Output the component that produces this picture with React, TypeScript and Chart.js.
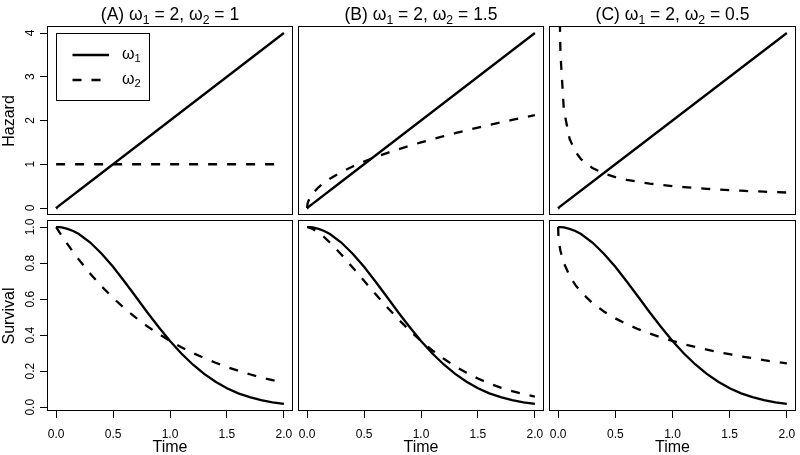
import React, { useEffect, useRef } from "react";
import { Chart, registerables } from "chart.js";

Chart.register(...registerables);

// ---- data ----
const timePoints = [0, 0.002, 0.005, 0.01, 0.02, 0.05, 0.1, 0.15, 0.2, 0.3, 0.4, 0.5, 0.6, 0.7, 0.8, 0.9, 1.0, 1.1, 1.2, 1.3, 1.4, 1.5, 1.6, 1.7, 1.8, 1.9, 2.0];

// omega1 = 2 (solid line, same in all panels)
const hazardOmega1 = [0, 0.004, 0.01, 0.02, 0.04, 0.1, 0.2, 0.3, 0.4, 0.6, 0.8, 1.0, 1.2, 1.4, 1.6, 1.8, 2.0, 2.2, 2.4, 2.6, 2.8, 3.0, 3.2, 3.4, 3.6, 3.8, 4.0];
const survivalOmega1 = [1, 1, 1, 1, 1, 0.998, 0.99, 0.978, 0.961, 0.914, 0.852, 0.779, 0.698, 0.613, 0.527, 0.445, 0.368, 0.298, 0.237, 0.185, 0.141, 0.105, 0.077, 0.056, 0.039, 0.027, 0.018];

// (A) omega2 = 1 (dashed)
const hazardA = [1, 1, 1, 1, 1, 1, 1, 1, 1, 1, 1, 1, 1, 1, 1, 1, 1, 1, 1, 1, 1, 1, 1, 1, 1, 1, 1];
const survivalA = [1, 0.998, 0.995, 0.99, 0.98, 0.951, 0.905, 0.861, 0.819, 0.741, 0.67, 0.607, 0.549, 0.497, 0.449, 0.407, 0.368, 0.333, 0.301, 0.273, 0.247, 0.223, 0.202, 0.183, 0.165, 0.15, 0.135];

// (B) omega2 = 1.5 (dashed)
const hazardB = [0, 0.067, 0.106, 0.15, 0.212, 0.335, 0.474, 0.581, 0.671, 0.822, 0.949, 1.061, 1.162, 1.255, 1.342, 1.423, 1.5, 1.573, 1.643, 1.71, 1.775, 1.837, 1.897, 1.956, 2.012, 2.068, 2.121];
const survivalB = [1, 1, 1, 0.999, 0.997, 0.989, 0.969, 0.944, 0.914, 0.848, 0.776, 0.702, 0.628, 0.557, 0.489, 0.426, 0.368, 0.315, 0.269, 0.227, 0.191, 0.159, 0.132, 0.109, 0.089, 0.073, 0.059];

// (C) omega2 = 0.5 (dashed)
const hazardC = [null, 11.18, 7.07, 5.0, 3.536, 2.236, 1.581, 1.291, 1.118, 0.913, 0.791, 0.707, 0.645, 0.598, 0.559, 0.527, 0.5, 0.477, 0.456, 0.439, 0.423, 0.408, 0.395, 0.383, 0.373, 0.363, 0.354];
const survivalC = [1, 0.956, 0.932, 0.905, 0.868, 0.8, 0.729, 0.679, 0.639, 0.578, 0.531, 0.493, 0.461, 0.433, 0.409, 0.387, 0.368, 0.35, 0.334, 0.32, 0.306, 0.294, 0.282, 0.272, 0.261, 0.252, 0.243];

// ticks
const timeTicks = [0, 0.5, 1, 1.5, 2];
const timeTickLabels = ["0.0", "0.5", "1.0", "1.5", "2.0"];
const hazardTicks = [0, 1, 2, 3, 4];
const hazardTickLabels = ["0", "1", "2", "3", "4"];
const survivalTicks = [0, 0.2, 0.4, 0.6, 0.8, 1.0];
const survivalTickLabels = ["0.0", "0.2", "0.4", "0.6", "0.8", "1.0"];

const panelTitles = [
  { tag: "(A)", w1: "2", w2: "1" },
  { tag: "(B)", w1: "2", w2: "1.5" },
  { tag: "(C)", w1: "2", w2: "0.5" },
];
const yTitles = ["Hazard", "Survival"];
const xTitle = "Time";
const legendLabels = ["1", "2"];

// ---- layout ----
const W = 800;
const H = 455;
const FONT = "'Liberation Sans', Arial, Helvetica, sans-serif";
const cols = [
  { l: 47, r: 293 },
  { l: 298, r: 544 },
  { l: 549, r: 796 },
];
const rows = [
  { t: 26, b: 215 },
  { t: 220, b: 411 },
];

const framePlugin = {
  id: "frame",
  afterDraw(chart: any) {
    const { ctx, chartArea } = chart;
    const { left, top, right, bottom } = chartArea;
    ctx.save();
    ctx.strokeStyle = "#000";
    ctx.lineWidth = 1;
    ctx.strokeRect(left + 0.5, top + 0.5, right - left - 1, bottom - top - 1);
    ctx.restore();
  },
};

function makeFit(size: number) {
  return (scale: any) => {
    if (scale.isHorizontal()) scale.height = size;
    else scale.width = size;
    scale.paddingLeft = 0;
    scale.paddingRight = 0;
    scale.paddingTop = 0;
    scale.paddingBottom = 0;
  };
}

type PanelProps = {
  col: number;
  row: number;
  solid: (number | null)[];
  dashed: (number | null)[];
  showY: boolean;
  showX: boolean;
};

function toPoints(vals: (number | null)[]) {
  const pts: { x: number; y: number }[] = [];
  vals.forEach((v, i) => {
    if (v !== null) pts.push({ x: timePoints[i], y: v });
  });
  return pts;
}

function Panel({ col, row, solid, dashed, showY, showX }: PanelProps) {
  const ref = useRef<HTMLCanvasElement>(null);
  useEffect(() => {
    const c = cols[col];
    const r = rows[row];
    const isHaz = row === 0;
    const yTicks = isHaz ? hazardTicks : survivalTicks;
    const yLabels = isHaz ? hazardTickLabels : survivalTickLabels;
    const yAxisW = showY ? c.l : 0;
    const xAxisH = showX ? H - r.b : 0;
    const chart = new Chart(ref.current as HTMLCanvasElement, {
      type: "line",
      data: {
        datasets: [
          {
            data: toPoints(solid),
            borderColor: "#000",
            borderWidth: 2.3,
            pointRadius: 0,
            fill: false,
            tension: 0,
            clip: 0,
          },
          {
            data: toPoints(dashed),
            borderColor: "#000",
            borderWidth: 2.3,
            borderDash: [9, 10],
            pointRadius: 0,
            fill: false,
            tension: 0,
            clip: 0,
          },
        ],
      } as any,
      options: {
        animation: false,
        responsive: false,
        devicePixelRatio: 1,
        events: [],
        layout: {
          autoPadding: false,
          padding: { left: c.l - yAxisW, right: W - c.r, top: r.t, bottom: H - r.b - xAxisH },
        },
        plugins: {
          legend: { display: false },
          tooltip: { enabled: false },
          title: { display: false },
        },
        scales: {
          x: {
            type: "linear",
            min: -0.08,
            max: 2.08,
            display: showX,
            afterBuildTicks: (s: any) => {
              s.ticks = timeTicks.map((v) => ({ value: v }));
            },
            afterFit: makeFit(xAxisH),
            ticks: {
              autoSkip: false,
              maxRotation: 0,
              minRotation: 0,
              padding: 9,
              color: "#000",
              font: { family: FONT, size: 12 },
              callback: (_v: any, i: number) => timeTickLabels[i],
            },
            grid: { drawOnChartArea: false, drawTicks: true, tickLength: 7, color: "#000", lineWidth: 1 },
            border: { display: false },
          },
          y: {
            type: "linear",
            min: isHaz ? -0.16 : -0.021,
            max: isHaz ? 4.16 : 1.039,
            display: showY,
            afterBuildTicks: (s: any) => {
              s.ticks = yTicks.map((v) => ({ value: v }));
            },
            afterFit: makeFit(yAxisW),
            ticks: {
              autoSkip: false,
              minRotation: 90,
              maxRotation: 90,
              crossAlign: "center",
              padding: isHaz ? 5.6 : 0.6,
              color: "#000",
              font: { family: FONT, size: 12 },
              callback: (_v: any, i: number) => yLabels[i],
            },
            grid: { drawOnChartArea: false, drawTicks: true, tickLength: 7, color: "#000", lineWidth: 1 },
            border: { display: false },
          },
        },
      } as any,
      plugins: [framePlugin],
    });
    return () => chart.destroy();
  }, []);
  return (
    <canvas
      ref={ref}
      width={W}
      height={H}
      style={{ position: "absolute", left: 0, top: 0, width: W, height: H }}
    />
  );
}

const subStyle: React.CSSProperties = { fontSize: "0.7em", verticalAlign: "-0.3em", lineHeight: 0 };

function Omega({ n }: { n: string }) {
  return (
    <span>
      ω<span style={subStyle}>{n}</span>
    </span>
  );
}

export default function App() {
  useEffect(() => {
    document.body.style.margin = "0";
  }, []);
  const solidRows = [hazardOmega1, survivalOmega1];
  const dashedSets = [
    [hazardA, survivalA],
    [hazardB, survivalB],
    [hazardC, survivalC],
  ];
  const titleF = 17.5;
  const axisF = 16;
  return (
    <div
      style={{
        position: "fixed",
        left: 0,
        top: 0,
        width: W,
        height: H,
        background: "#fff",
        overflow: "hidden",
        fontFamily: FONT,
        color: "#000",
      }}
    >
      {[0, 1, 2].map((ci) =>
        [0, 1].map((ri) => (
          <Panel
            key={`${ci}-${ri}`}
            col={ci}
            row={ri}
            solid={solidRows[ri]}
            dashed={dashedSets[ci][ri]}
            showY={ci === 0}
            showX={ri === 1}
          />
        ))
      )}
      {panelTitles.map((pt, ci) => {
        const cx = (cols[ci].l + cols[ci].r) / 2;
        return (
          <div
            key={`t${ci}`}
            style={{
              position: "absolute",
              left: cx - 150,
              width: 300,
              top: 20.7 - 0.8465 * titleF,
              fontSize: titleF,
              lineHeight: `${titleF}px`,
              textAlign: "center",
              whiteSpace: "nowrap",
            }}
          >
            {pt.tag} <Omega n="1" /> = {pt.w1}, <Omega n="2" /> = {pt.w2}
          </div>
        );
      })}
      {[0, 1, 2].map((ci) => {
        const cx = (cols[ci].l + cols[ci].r) / 2;
        return (
          <div
            key={`x${ci}`}
            style={{
              position: "absolute",
              left: cx - 100,
              width: 200,
              top: 452.5 - 0.8465 * axisF,
              fontSize: axisF,
              lineHeight: `${axisF}px`,
              textAlign: "center",
            }}
          >
            {xTitle}
          </div>
        );
      })}
      {yTitles.map((yt, ri) => {
        const cy = (rows[ri].t + rows[ri].b) / 2;
        const cx = 15 - 0.3465 * axisF;
        return (
          <div
            key={`y${ri}`}
            style={{
              position: "absolute",
              left: cx - 100,
              top: cy - axisF / 2,
              width: 200,
              height: axisF,
              fontSize: axisF,
              lineHeight: `${axisF}px`,
              textAlign: "center",
              transform: "rotate(-90deg)",
              transformOrigin: "50% 50%",
            }}
          >
            {yt}
          </div>
        );
      })}
      <div
        style={{
          position: "absolute",
          left: 56,
          top: 33,
          width: 94,
          height: 68,
          boxSizing: "border-box",
          border: "1px solid #000",
          fontSize: 16,
        }}
      >
        {legendLabels.map((n, i) => (
          <div key={n} style={{ position: "absolute", left: 0, top: 9 + i * 25, width: 92, height: 24 }}>
            <svg width={40} height={24} style={{ position: "absolute", left: 15, top: 0 }}>
              <line
                x1={0.5}
                y1={12}
                x2={37}
                y2={12}
                stroke="#000"
                strokeWidth={2.3}
                strokeDasharray={i === 0 ? undefined : "9 10"}
              />
            </svg>
            <div style={{ position: "absolute", left: 65, top: 12 - 0.8465 * 16 + 5, lineHeight: "16px" }}>
              <Omega n={n} />
            </div>
          </div>
        ))}
      </div>
    </div>
  );
}
